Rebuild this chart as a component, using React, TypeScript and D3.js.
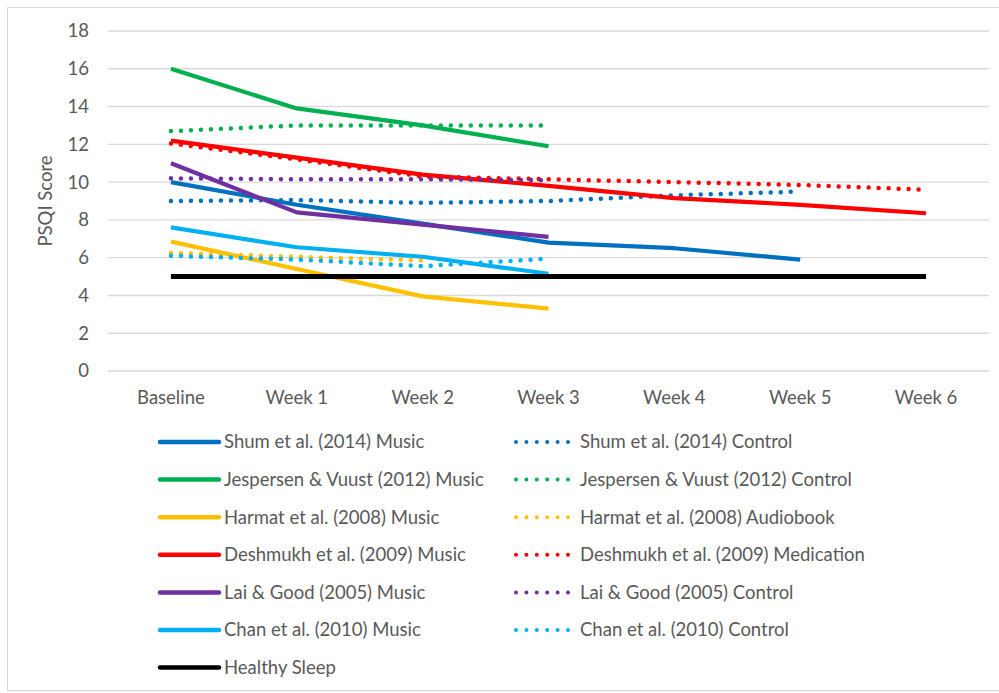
import React from "react";
import * as d3 from "d3";

const categories = ["Baseline", "Week 1", "Week 2", "Week 3", "Week 4", "Week 5", "Week 6"];
const yTicks = [0, 2, 4, 6, 8, 10, 12, 14, 16, 18];

const shumMusic = [10.0, 8.8, 7.8, 6.8, 6.5, 5.9];
const shumControl = [9.0, 9.05, 8.9, 9.0, 9.3, 9.5];
const jespersenMusic = [16.0, 13.9, 13.0, 11.9];
const jespersenControl = [12.7, 13.0, 13.0, 13.0];
const harmatMusic = [6.85, 5.4, 3.95, 3.3];
const harmatAudiobook = [6.25, 6.05, 5.85];
const deshmukhMusic = [12.2, 11.3, 10.4, 9.8, 9.15, 8.8, 8.35];
const deshmukhMedication = [12.05, 11.2, 10.3, 10.15, 10.0, 9.85, 9.6];
const laiMusic = [11.0, 8.4, 7.75, 7.1];
const laiControl = [10.2, 10.15, 10.15, 10.1];
const chanMusic = [7.6, 6.55, 6.05, 5.15];
const chanControl = [6.1, 5.9, 5.55, 5.95];
const healthySleep = [5, 5, 5, 5, 5, 5, 5];

type Series = { name: string; values: number[]; color: string; dotted: boolean };

const series: Series[] = [
  { name: "Shum et al. (2014) Music", values: shumMusic, color: "#0070C0", dotted: false },
  { name: "Shum et al. (2014) Control", values: shumControl, color: "#0070C0", dotted: true },
  { name: "Jespersen & Vuust (2012) Music", values: jespersenMusic, color: "#00B050", dotted: false },
  { name: "Jespersen & Vuust (2012) Control", values: jespersenControl, color: "#00B050", dotted: true },
  { name: "Harmat et al. (2008) Music", values: harmatMusic, color: "#FFC000", dotted: false },
  { name: "Harmat et al. (2008) Audiobook", values: harmatAudiobook, color: "#FFC000", dotted: true },
  { name: "Deshmukh et al. (2009) Music", values: deshmukhMusic, color: "#FF0000", dotted: false },
  { name: "Deshmukh et al. (2009) Medication", values: deshmukhMedication, color: "#FF0000", dotted: true },
  { name: "Lai & Good (2005) Music", values: laiMusic, color: "#7030A0", dotted: false },
  { name: "Lai & Good (2005) Control", values: laiControl, color: "#7030A0", dotted: true },
  { name: "Chan et al. (2010) Music", values: chanMusic, color: "#00B0F0", dotted: false },
  { name: "Chan et al. (2010) Control", values: chanControl, color: "#00B0F0", dotted: true },
  { name: "Healthy Sleep", values: healthySleep, color: "#000000", dotted: false },
];

const FONT = "Lato, 'Open Sans', sans-serif";
const TEXT = "#595959";
const FS = 18.5;

export default function App() {
  const W = 999, H = 693;
  const plotL = 108, plotR = 989, plotT = 31, plotB = 371;
  const x = d3.scaleBand<string>().domain(categories).range([plotL, plotR]).padding(0);
  const y = d3.scaleLinear().domain([0, 18]).range([plotB, plotT]);
  const cx = (i: number) => (x(categories[i]) as number) + x.bandwidth() / 2;
  const line = d3.line<number>().x((_, i) => cx(i)).y((d) => y(d));

  const legendRowY = (r: number) => 442 + r * 37.6;

  return (
    <svg width={W} height={H} style={{ position: "absolute", left: 0, top: 0, background: "#fff" }} fontFamily={FONT}>
      <rect x={0} y={0} width={W} height={H} fill="#fff" />
      <rect x={7.5} y={7.5} width={1000} height={683} fill="none" stroke="#d9d9d9" strokeWidth={1} />
      {yTicks.map((t) => (
        <g key={t}>
          <line x1={plotL} x2={plotR} y1={y(t)} y2={y(t)} stroke="#d9d9d9" strokeWidth={1.4} />
          <text x={89} y={y(t)} dy="0.35em" textAnchor="end" fontSize={FS} fill={TEXT}>{t}</text>
        </g>
      ))}
      <text transform={`translate(46,${(plotT + plotB) / 2}) rotate(-90)`} textAnchor="middle" dy="0.35em" fontSize={FS} fill={TEXT}>PSQI Score</text>
      {categories.map((c, i) => (
        <text key={c} x={cx(i)} y={398} dy="0.35em" textAnchor="middle" fontSize={FS} fill={TEXT}>{c}</text>
      ))}
      {series.map((s) => (
        <path key={s.name} d={line(s.values) || ""} fill="none" stroke={s.color}
          strokeWidth={s.name === "Healthy Sleep" ? 5 : s.dotted ? 4.5 : 4.2}
          strokeLinecap={s.dotted ? "round" : "butt"} strokeLinejoin="round"
          strokeDasharray={s.dotted ? "0 10" : undefined} />
      ))}
      {series.map((s, i) => {
        const col = s.name === "Healthy Sleep" ? 0 : i % 2;
        const row = s.name === "Healthy Sleep" ? 6 : Math.floor(i / 2);
        const yy = legendRowY(row);
        const x0 = col === 0 ? 160 : 516;
        const x1 = col === 0 ? 219 : 570;
        const tx = col === 0 ? 224 : 580;
        return (
          <g key={"lg" + s.name}>
            <line x1={x0} x2={x1} y1={yy} y2={yy} stroke={s.color}
              strokeWidth={s.dotted ? 4 : 4.5} strokeLinecap="round"
              strokeDasharray={s.dotted ? "0 10.4" : undefined} />
            <text x={tx} y={yy} dy="0.35em" fontSize={FS} fill={TEXT}>{s.name}</text>
          </g>
        );
      })}
    </svg>
  );
}
